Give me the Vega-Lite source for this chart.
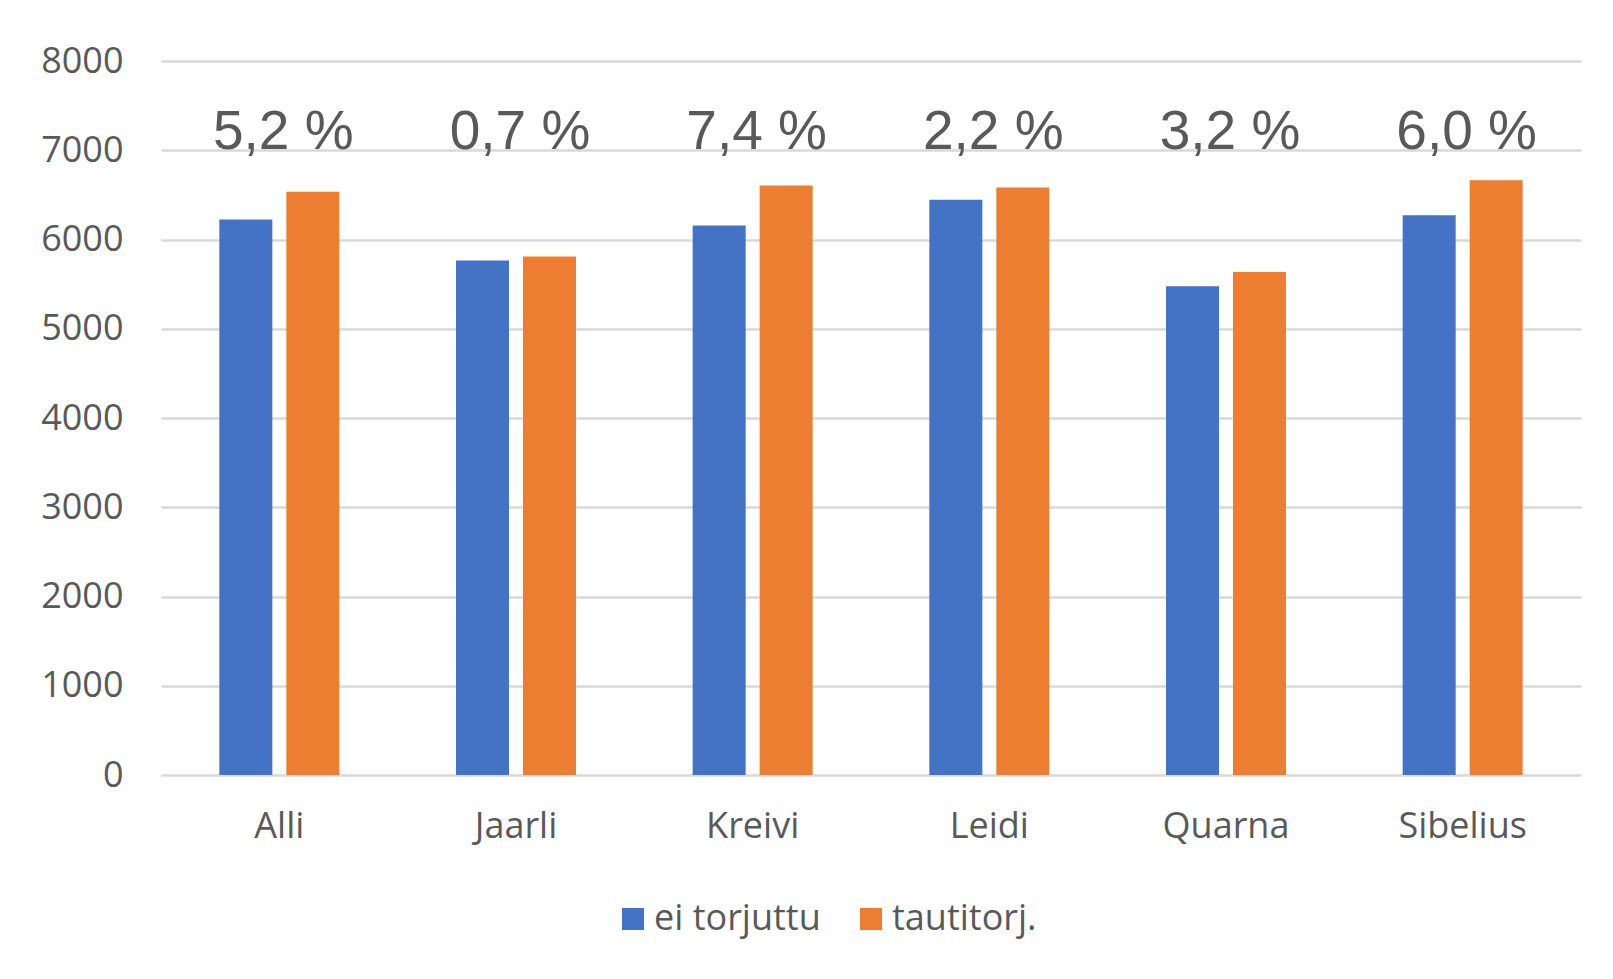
{
  "$schema": "https://vega.github.io/schema/vega-lite/v6.json",
  "width": 1420,
  "height": 714,
  "autosize": {"type": "none"},
  "padding": {"left": 161, "top": 61, "right": 32, "bottom": 204},
  "background": "white",
  "config": {
    "view": {"stroke": null},
    "font": "Open Sans",
    "axis": {"labelFont": "Open Sans", "labelColor": "#595959", "labelFontSize": 36, "title": null, "domain": false, "ticks": false, "tickSize": 0},
    "legend": {"labelFont": "Open Sans"}
  },
  "layer": [
    {
      "data": {
        "values": [
          {"lajike": "Alli", "käsittely": "ei torjuttu", "sato": 6225},
          {"lajike": "Alli", "käsittely": "tautitorj.", "sato": 6536},
          {"lajike": "Jaarli", "käsittely": "ei torjuttu", "sato": 5764},
          {"lajike": "Jaarli", "käsittely": "tautitorj.", "sato": 5810},
          {"lajike": "Kreivi", "käsittely": "ei torjuttu", "sato": 6156},
          {"lajike": "Kreivi", "käsittely": "tautitorj.", "sato": 6605},
          {"lajike": "Leidi", "käsittely": "ei torjuttu", "sato": 6444},
          {"lajike": "Leidi", "käsittely": "tautitorj.", "sato": 6582},
          {"lajike": "Quarna", "käsittely": "ei torjuttu", "sato": 5476},
          {"lajike": "Quarna", "käsittely": "tautitorj.", "sato": 5637},
          {"lajike": "Sibelius", "käsittely": "ei torjuttu", "sato": 6271},
          {"lajike": "Sibelius", "käsittely": "tautitorj.", "sato": 6663}
        ]
      },
      "mark": {"type": "bar"},
      "encoding": {
        "x": {
          "field": "lajike",
          "type": "nominal",
          "sort": ["Alli", "Jaarli", "Kreivi", "Leidi", "Quarna", "Sibelius"],
          "scale": {"paddingInner": 0.493, "paddingOuter": 0.2465},
          "axis": {"labelAngle": 0, "labelPadding": 51, "labelBaseline": "middle", "grid": false}
        },
        "xOffset": {
          "field": "käsittely",
          "type": "nominal",
          "sort": ["ei torjuttu", "tautitorj."],
          "scale": {"paddingInner": 0.209, "paddingOuter": 0}
        },
        "y": {
          "field": "sato",
          "type": "quantitative",
          "scale": {"domain": [0, 8000], "nice": false},
          "axis": {"values": [0, 1000, 2000, 3000, 4000, 5000, 6000, 7000, 8000], "format": "d", "labelPadding": 38, "grid": true, "gridColor": "#d9d9d9", "gridWidth": 2.5}
        },
        "color": {
          "field": "käsittely",
          "type": "nominal",
          "sort": ["ei torjuttu", "tautitorj."],
          "scale": {"domain": ["ei torjuttu", "tautitorj."], "range": ["#4472C4", "#ED7D31"]},
          "legend": {
            "title": null,
            "orient": "none",
            "direction": "horizontal",
            "legendX": 454,
            "legendY": 840,
            "padding": 0,
            "symbolType": "square",
            "symbolSize": 484,
            "symbolStrokeWidth": 0,
            "labelFontSize": 36,
            "labelColor": "#595959",
            "labelOffset": 3,
            "labelLimit": 500,
            "columnPadding": 32
          }
        }
      }
    },
    {
      "data": {
        "values": [
          {"lajike": "Alli", "ero": "5,2 %"},
          {"lajike": "Jaarli", "ero": "0,7 %"},
          {"lajike": "Kreivi", "ero": "7,4 %"},
          {"lajike": "Leidi", "ero": "2,2 %"},
          {"lajike": "Quarna", "ero": "3,2 %"},
          {"lajike": "Sibelius", "ero": "6,0 %"}
        ]
      },
      "mark": {"type": "text", "font": "Liberation Sans", "fontSize": 55, "color": "#595959", "baseline": "alphabetic", "align": "center", "dx": 4},
      "encoding": {
        "x": {"field": "lajike", "type": "nominal", "sort": ["Alli", "Jaarli", "Kreivi", "Leidi", "Quarna", "Sibelius"]},
        "y": {"datum": 7010, "type": "quantitative"},
        "text": {"field": "ero"}
      }
    }
  ]
}
